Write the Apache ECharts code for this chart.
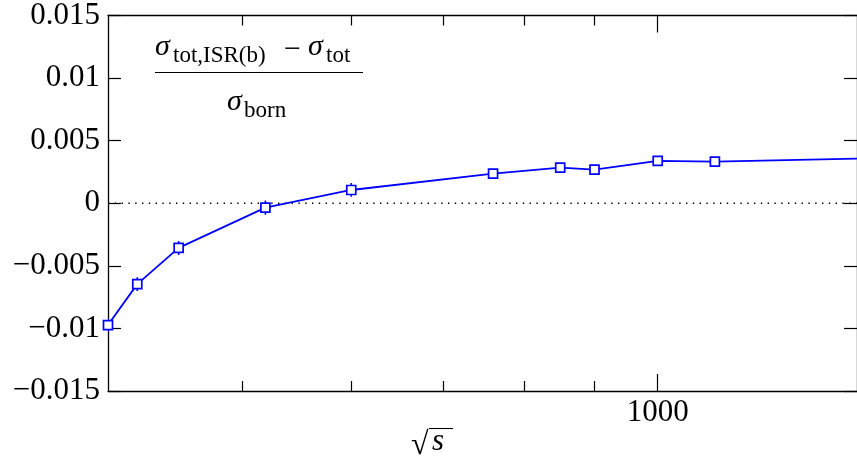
<!DOCTYPE html>
<html>
<head>
<meta charset="utf-8">
<script src="https://cdn.jsdelivr.net/npm/echarts@6/dist/echarts.min.js"></script>
<style>
  html, body { margin: 0; padding: 0; background: #fff; }
  #chart { width: 857px; height: 471px; }
</style>
</head>
<body>
<div id="chart"></div>
<script>
// Centre-of-mass energy sqrt(s) and the relative ISR(b) shift of the total cross section
const sqrtS    = [400, 420, 450, 520, 600, 760, 850, 900, 1000, 1100, 1500];
const deltaRel = [-0.00973, -0.00646, -0.00357, -0.00035, 0.00106, 0.00236, 0.00284, 0.00268, 0.00338, 0.00332, 0.00364];
const deltaErr = [0.00055, 0.00055, 0.00056, 0.00056, 0.00055, 0.0003, 0.0003, 0.0003, 0.0003, 0.0003, 0.0003];

// Axis ticks
const xMinorTicks = [500, 600, 700, 800, 900];
const xMajorTicks = [1000];
const xRange = [400, 1394];
const yRange = [-0.015, 0.015];
const yStep = 0.005;
const zeroLevel = 0;

const FONT = 'Liberation Serif';
const BLUE = '#0000ff';
const INK = '#000';

const points = sqrtS.map((x, i) => [x, deltaRel[i]]);
const bars = sqrtS.map((x, i) => [x, deltaRel[i], deltaErr[i]]);
const zeroLine = xRange.map(x => [x, zeroLevel]);

function fmtY(v) {
  if (Math.abs(v) < 1e-12) return '0';
  const s = String(+Math.abs(v).toFixed(3));
  return (v < 0 ? '\u2212' : '') + s;
}

function xAxisDef(pos, ticks, len, showLine, showLabel) {
  return {
    type: 'log', logBase: 10, min: xRange[0], max: xRange[1], position: pos,
    axisLine: { show: showLine, onZero: false, lineStyle: { color: INK, width: 1.3 } },
    axisTick: { show: true, inside: true, length: len, customValues: ticks,
                lineStyle: { color: INK, width: 1.2 } },
    axisLabel: { show: showLabel, customValues: xMajorTicks, margin: 6,
                 fontFamily: FONT, fontSize: 31, color: INK,
                 formatter: v => String(Math.round(v)) },
    splitLine: { show: false }, minorTick: { show: false }
  };
}

function yAxisDef(pos, showLabel) {
  return {
    type: 'value', min: yRange[0], max: yRange[1], interval: yStep, position: pos,
    axisLine: { show: true, onZero: false, lineStyle: { color: INK, width: 1.3 } },
    axisTick: { show: true, inside: true, length: 13, lineStyle: { color: INK, width: 1.2 } },
    axisLabel: { show: showLabel, margin: 8, fontFamily: FONT, fontSize: 31, color: INK, formatter: fmtY },
    splitLine: { show: false }
  };
}

const chart = echarts.init(document.getElementById('chart'), null, { renderer: 'canvas' });

const sub = 23, main = 30;
function txt(x, y, text, size, italic) {
  return { type: 'text', x: x, y: y, silent: true,
           style: { text: text, fontFamily: FONT, fontSize: size, fontStyle: italic ? 'italic' : 'normal',
                    fill: INK, align: 'left', verticalAlign: 'middle' } };
}

chart.setOption({
  animation: false,
  backgroundColor: '#fff',
  grid: { left: 108, top: 13, right: -2, bottom: 80, containLabel: false },
  xAxis: [
    xAxisDef('bottom', xMinorTicks, 10, true, true),
    xAxisDef('bottom', xMajorTicks, 17, false, false),
    xAxisDef('top', xMinorTicks, 10, true, false),
    xAxisDef('top', xMajorTicks, 17, false, false)
  ],
  yAxis: [yAxisDef('left', true), yAxisDef('right', false)],
  series: [
    {
      // dotted reference line at zero
      type: 'line', xAxisIndex: 0, yAxisIndex: 0, z: 1, silent: true,
      data: zeroLine, symbol: 'none',
      lineStyle: { color: INK, width: 1.4, type: [1.4, 5.4] },
      emphasis: { disabled: true }
    },
    {
      type: 'custom', xAxisIndex: 0, yAxisIndex: 0, z: 2, clip: true, silent: true,
      data: bars,
      renderItem: function (params, api) {
        const x = api.value(0), y = api.value(1), e = api.value(2);
        const lo = api.coord([x, y - e]);
        const hi = api.coord([x, y + e]);
        return { type: 'line', shape: { x1: lo[0], y1: lo[1], x2: hi[0], y2: hi[1] },
                 style: { stroke: BLUE, lineWidth: 1.6 } };
      }
    },
    {
      type: 'line', xAxisIndex: 0, yAxisIndex: 0, z: 3, clip: true, silent: true,
      data: points,
      symbol: 'rect', symbolSize: 9,
      itemStyle: { color: '#fff', borderColor: BLUE, borderWidth: 1.7 },
      lineStyle: { color: BLUE, width: 1.8 },
      emphasis: { disabled: true }
    }
  ],
  graphic: [
    // numerator
    txt(155, 47, '\u03c3', main, true),
    txt(173, 56, 'tot,ISR(b)', sub, false),
    txt(284, 50, '\u2212', main, false),
    txt(308, 47, '\u03c3', main, true),
    txt(326, 56, 'tot', sub, false),
    { type: 'line', silent: true, shape: { x1: 155, y1: 72.5, x2: 363, y2: 72.5 },
      style: { stroke: INK, lineWidth: 1.2 } },
    // denominator
    txt(227, 102, '\u03c3', main, true),
    txt(244, 111, 'born', sub, false),
    // x axis title: square root of s
    txt(411, 446, '\u221a', 32, false),
    txt(432, 442, 's', 31, true),
    { type: 'line', silent: true, shape: { x1: 429, y1: 428.5, x2: 453, y2: 428.5 },
      style: { stroke: INK, lineWidth: 1.1 } }
  ]
});
</script>
</body>
</html>
